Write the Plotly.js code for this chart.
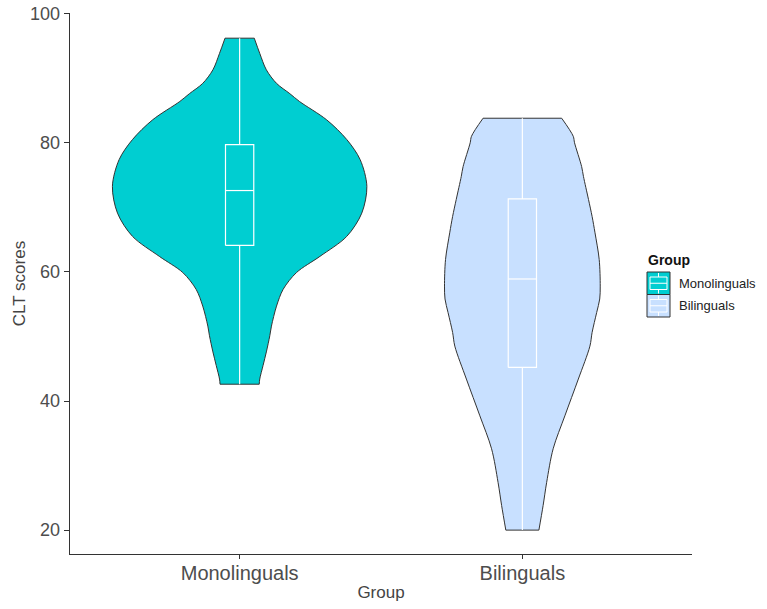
<!DOCTYPE html>
<html>
<head>
<meta charset="utf-8">
<script src="https://cdn.plot.ly/plotly-3.0.1.min.js"></script>
<style>
  html, body { margin: 0; padding: 0; background: #fff; }
  #chart { width: 767px; height: 609px; }
</style>
</head>
<body>
<div id="chart"></div>
<script>
// Groups and their colours
const groups = ["Monolinguals", "Bilinguals"];
const groupColors = ["#00CED1", "#C8E0FF"];

// Violin outlines: score levels and relative density width (1 = widest violin)
const monoScores  = [42.6, 43.4, 45.5, 47.6, 50.1, 51.6, 54.7, 57.3, 59.9, 62.4, 65.5, 69.1, 73.25, 77.4, 80.5, 83.55, 86.4, 87.6, 89.2, 91.3, 93.85, 96.2];
const monoDensity = [0.154, 0.158, 0.184, 0.21, 0.237, 0.25, 0.29, 0.342, 0.447, 0.631, 0.842, 0.96, 1.0, 0.947, 0.842, 0.684, 0.47, 0.395, 0.29, 0.21, 0.158, 0.115];

const biliScores  = [20.0, 23.8, 27.4, 32.6, 37.7, 43.4, 48.5, 50.6, 53.7, 55.8, 57.8, 61.9, 66.05, 68.6, 71.2, 74.8, 76.3, 80.0, 81.0, 83.8];
const biliDensity = [0.13, 0.163, 0.191, 0.242, 0.334, 0.44, 0.531, 0.548, 0.584, 0.608, 0.612, 0.604, 0.571, 0.548, 0.52, 0.48, 0.466, 0.41, 0.40, 0.309];

// Box summaries: lower whisker, Q1, median, Q3, upper whisker
const boxLower  = [42.6, 20.0];
const boxQ1     = [64.1, 45.2];
const boxMedian = [72.6, 58.9];
const boxQ3     = [79.7, 71.3];
const boxUpper  = [96.2, 83.8];

const yTicks = [20, 40, 60, 80, 100];

// Widest violin spans 0.9 of a category slot; boxes are 0.1 wide
const maxHalf = 0.45;
const boxHalf = 0.05;
const outline = { color: "#333333", width: 1 };

const violinData = [[monoScores, monoDensity], [biliScores, biliDensity]];
const traces = [];

violinData.forEach(([sc, de], i) => {
  const c = i + 1;
  const left = de.map(d => c - d * maxHalf);
  const right = de.map(d => c + d * maxHalf);
  // left edge
  traces.push({
    type: "scatter", mode: "lines", x: left, y: sc,
    line: Object.assign({ shape: "spline", smoothing: 0.9 }, outline),
    hoverinfo: "skip", showlegend: false
  });
  // right edge, filled back to the left edge
  traces.push({
    type: "scatter", mode: "lines", x: right, y: sc,
    fill: "tonextx", fillcolor: groupColors[i],
    line: Object.assign({ shape: "spline", smoothing: 0.9 }, outline),
    hoverinfo: "skip", showlegend: false
  });
  // flat ends of the violin
  const n = sc.length - 1;
  traces.push({
    type: "scatter", mode: "lines",
    x: [left[0], right[0], null, left[n], right[n]],
    y: [sc[0], sc[0], null, sc[n], sc[n]],
    line: outline, hoverinfo: "skip", showlegend: false
  });
});

// White box-and-whisker drawn on top of each violin
groups.forEach((g, i) => {
  const c = i + 1, l = c - boxHalf, r = c + boxHalf;
  traces.push({
    type: "scatter", mode: "lines",
    x: [l, r, r, l, l, null, l, r, null, c, c, null, c, c],
    y: [boxQ1[i], boxQ1[i], boxQ3[i], boxQ3[i], boxQ1[i], null,
        boxMedian[i], boxMedian[i], null,
        boxQ3[i], boxUpper[i], null,
        boxQ1[i], boxLower[i]],
    line: { color: "#ffffff", width: 1.2 },
    hoverinfo: "skip", showlegend: false
  });
});

// Plot-area geometry in pixels for the hand-made legend
const L = 70, R = 692, T = 13, B = 554;
const px = v => (v - L) / (R - L);
const py = v => (B - v) / (B - T);

const font = "Liberation Sans, Arial, sans-serif";
const shapes = [];
const annotations = [];

annotations.push({
  xref: "paper", yref: "paper", x: px(646), y: py(260),
  xanchor: "left", yanchor: "middle", showarrow: false,
  text: "<b>Group</b>", font: { family: font, size: 14, color: "#111" }
});

groups.forEach((g, i) => {
  const top = 272 + i * 22.5, bot = top + 22.5, l = 647, r = 670, cx = (l + r) / 2;
  shapes.push({ type: "rect", xref: "paper", yref: "paper",
    x0: px(l), x1: px(r), y0: py(bot), y1: py(top),
    fillcolor: groupColors[i], line: { color: "#333", width: 1 } });
  const bt = top + 5, bb = bot - 5, mid = (top + bot) / 2;
  shapes.push({ type: "rect", xref: "paper", yref: "paper",
    x0: px(l + 3), x1: px(r - 3), y0: py(bb), y1: py(bt),
    fillcolor: "rgba(0,0,0,0)", line: { color: "#fff", width: 1 } });
  shapes.push({ type: "line", xref: "paper", yref: "paper",
    x0: px(l + 3), x1: px(r - 3), y0: py(mid), y1: py(mid), line: { color: "#fff", width: 1 } });
  shapes.push({ type: "line", xref: "paper", yref: "paper",
    x0: px(cx), x1: px(cx), y0: py(bt), y1: py(top + 1), line: { color: "#fff", width: 1 } });
  shapes.push({ type: "line", xref: "paper", yref: "paper",
    x0: px(cx), x1: px(cx), y0: py(bot - 1), y1: py(bb), line: { color: "#fff", width: 1 } });
  annotations.push({
    xref: "paper", yref: "paper", x: px(677), y: py((top + bot) / 2),
    xanchor: "left", yanchor: "middle", showarrow: false,
    text: g, font: { family: font, size: 13, color: "#222" }
  });
});

const layout = {
  width: 767, height: 609,
  margin: { l: L, r: 767 - R, t: T, b: 609 - B, pad: 0 },
  paper_bgcolor: "#fff", plot_bgcolor: "#fff",
  showlegend: false,
  font: { family: font },
  xaxis: {
    range: [0.4, 2.6], tickvals: [1, 2], ticktext: groups,
    showgrid: false, zeroline: false,
    showline: true, linecolor: "#333", linewidth: 1.3,
    ticks: "outside", ticklen: 4, tickcolor: "#333", tickwidth: 1,
    ticklabelstandoff: -3,
    tickfont: { size: 20, color: "#4d4d4d", family: font },
    title: { text: "Group", font: { size: 17, color: "#444", family: font }, standoff: 2 }
  },
  yaxis: {
    range: [16.3, 100.1], tickvals: yTicks,
    showgrid: false, zeroline: false,
    showline: true, linecolor: "#333", linewidth: 1.3,
    ticks: "outside", ticklen: 5, tickcolor: "#333", tickwidth: 1,
    tickfont: { size: 18, color: "#4d4d4d", family: font },
    title: { text: "CLT scores", font: { size: 17, color: "#444", family: font }, standoff: 0 }
  },
  shapes: shapes,
  annotations: annotations
};

Plotly.newPlot("chart", traces, layout, { displayModeBar: false, staticPlot: true });
</script>
</body>
</html>
